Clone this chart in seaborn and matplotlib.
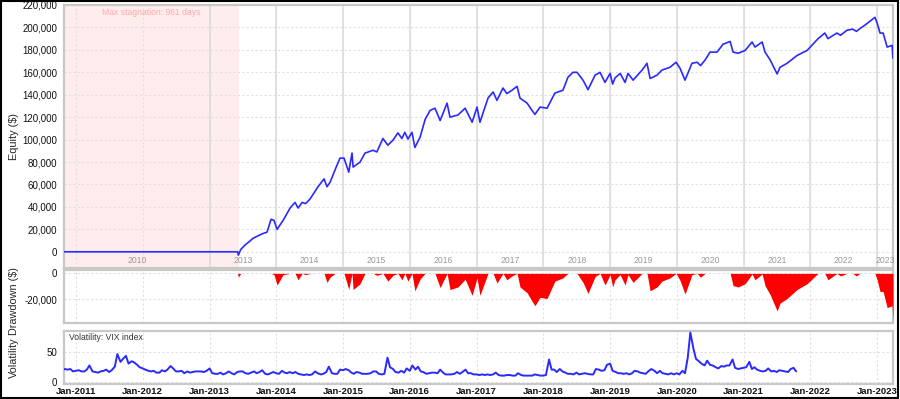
import pandas as pd
import matplotlib
matplotlib.use("Agg")
import matplotlib.pyplot as plt
import matplotlib.dates as mdates
import matplotlib.ticker as mticker
import matplotlib.transforms as mtransforms
from matplotlib.patches import Rectangle
import seaborn as sns

sns.set_style("white")
plt.rcParams['font.family'] = ['Liberation Sans', 'DejaVu Sans']

# -------------------------------
# Data
# -------------------------------
eq_dates = [
    '2010-10-01', '2013-06-03', '2013-06-07', '2013-06-20', '2013-07-13', '2013-08-05',
    '2013-08-26', '2013-09-20', '2013-10-15', '2013-11-11', '2013-12-03', '2013-12-19',
    '2014-01-05', '2014-02-07', '2014-03-17', '2014-04-13', '2014-04-30', '2014-05-22',
    '2014-06-10', '2014-07-04', '2014-08-17', '2014-09-19', '2014-10-05', '2014-10-22',
    '2014-11-18', '2014-12-15', '2015-01-06', '2015-01-22', '2015-02-01', '2015-02-19',
    '2015-02-25', '2015-04-04', '2015-05-01', '2015-06-14', '2015-07-05', '2015-08-07',
    '2015-09-03', '2015-10-01', '2015-10-28', '2015-11-19', '2015-12-05', '2015-12-22',
    '2016-01-13', '2016-01-29', '2016-02-26', '2016-03-25', '2016-04-21', '2016-05-18',
    '2016-06-15', '2016-07-23', '2016-08-08', '2016-09-21', '2016-10-30', '2016-12-07',
    '2017-01-03', '2017-01-19', '2017-03-04', '2017-04-01', '2017-04-22', '2017-05-25',
    '2017-06-15', '2017-07-13', '2017-08-10', '2017-08-26', '2017-10-04', '2017-10-31',
    '2017-11-16', '2017-12-14', '2018-01-21', '2018-03-05', '2018-04-18', '2018-05-15',
    '2018-06-12', '2018-07-04', '2018-08-06', '2018-09-02', '2018-10-11', '2018-11-07',
    '2018-12-04', '2019-01-01', '2019-01-15', '2019-01-28', '2019-02-25', '2019-03-24',
    '2019-04-09', '2019-05-07', '2019-06-25', '2019-07-22', '2019-08-08', '2019-09-15',
    '2019-10-12', '2019-11-25', '2019-12-28', '2020-01-19', '2020-02-15', '2020-03-24',
    '2020-04-21', '2020-05-10', '2020-06-04', '2020-07-01', '2020-08-08', '2020-09-10',
    '2020-10-19', '2020-11-04', '2020-12-02', '2021-01-09', '2021-02-16', '2021-03-04',
    '2021-04-12', '2021-04-28', '2021-05-26', '2021-07-03', '2021-07-19', '2021-08-26',
    '2021-10-20', '2021-12-14', '2022-02-12', '2022-03-21', '2022-04-07', '2022-05-26',
    '2022-06-15', '2022-07-20', '2022-08-20', '2022-09-10', '2022-09-29', '2022-10-26',
    '2022-12-20', '2023-01-02', '2023-01-17', '2023-02-03', '2023-02-25', '2023-03-24',
    '2023-03-29',
]
eq_values = [
    0, 0, -3000, 2000, 6000, 9000,
    12000, 14000, 16000, 17500, 29000, 28000,
    20000, 28000, 39000, 44000, 39000, 44000,
    43000, 47000, 58000, 65000, 58000, 62000,
    73000, 83500, 83500, 76000, 71000, 88000,
    75500, 80000, 88000, 90500, 89000, 101000,
    95000, 99500, 106000, 101000, 106500, 100500,
    106500, 93000, 102000, 118000, 126000, 128000,
    117000, 132500, 120000, 122000, 128000, 115500,
    129000, 115500, 137000, 142500, 135000, 146000,
    141000, 144000, 147500, 137000, 132500, 126000,
    122500, 129000, 128000, 141500, 144000, 155500,
    160000, 160000, 153000, 144500, 157500, 160000,
    151000, 159000, 149500, 155000, 159000, 151000,
    159000, 153000, 162000, 168000, 154500, 157500,
    162000, 164500, 169000, 163500, 153000, 168000,
    169000, 166000, 171000, 178000, 178000, 185000,
    187500, 178000, 177000, 179500, 187000, 182500,
    187000, 178000, 171000, 158500, 164500, 168000,
    175000, 179500, 190000, 195000, 190000, 195000,
    193000, 197500, 198500, 196500, 199000, 202000,
    209000, 203500, 195000, 195000, 182500, 184000,
    172500,
]

# VIX, twice a month (1st and 15th) starting Oct 2010
vix_start = '2010-10-01'
vix_values = [
    22, 19, 21, 20, 21, 17,
    18, 19, 17, 17, 20, 27, 17, 16, 15, 17, 18, 20, 16, 19, 25, 46, 33, 38, 43, 30, 34, 32, 28, 24,
    22, 20, 18, 17, 18, 15, 15, 19, 17, 20, 26, 22, 17, 17, 18, 14, 17, 15, 16, 17, 17, 17, 16, 18,
    22, 14, 13, 13, 15, 12, 14, 17, 14, 12, 16, 17, 17, 14, 13, 15, 17, 14, 16, 19, 13, 12, 14, 16,
    14, 13, 18, 15, 14, 16, 14, 16, 13, 12, 11, 12, 11, 12, 17, 14, 12, 13, 16, 25, 14, 13, 13, 20,
    19, 21, 19, 15, 13, 16, 15, 13, 13, 13, 14, 17, 17, 13, 12, 13, 40, 24, 21, 16, 15, 18, 15, 22,
    18, 27, 20, 25, 17, 16, 13, 14, 15, 15, 14, 20, 15, 12, 12, 12, 13, 16, 13, 16, 20, 14, 14, 12,
    12, 11, 12, 11, 12, 11, 12, 15, 11, 10, 10, 11, 11, 10, 10, 14, 11, 10, 10, 10, 10, 12, 11, 10,
    10, 11, 37, 20, 20, 16, 21, 17, 15, 13, 13, 12, 15, 12, 13, 14, 13, 12, 12, 21, 20, 18, 19, 28,
    30, 18, 16, 14, 14, 13, 14, 12, 14, 18, 17, 15, 14, 13, 18, 21, 18, 14, 18, 14, 13, 12, 14, 12,
    14, 12, 18, 14, 40, 82, 55, 38, 34, 30, 27, 35, 28, 27, 24, 22, 26, 25, 27, 27, 37, 23, 21, 22,
    23, 24, 33, 21, 24, 20, 18, 17, 18, 22, 17, 18, 16, 19, 18, 17, 16, 21, 23, 17,
]

period_labels = ['2010', '2013', '2014', '2015', '2016', '2017', '2018',
                 '2019', '2020', '2021', '2022', '2023']
stagnation_end = '2013-06-10'
stagnation_days = 961

eq = pd.DataFrame({'date': pd.to_datetime(eq_dates), 'equity': eq_values})
eq['drawdown'] = eq['equity'] - eq['equity'].cummax()
vix = pd.DataFrame({'date': pd.date_range(vix_start, periods=len(vix_values), freq='SMS'),
                    'vix': vix_values})

x_left = pd.Timestamp('2010-10-27')
x_right = pd.Timestamp('2023-03-29')
jan_ticks = [pd.Timestamp(f'{y}-01-01') for y in range(2011, 2024)]

BLUE = '#2a2aff'
BORDER = '#c8c8c8'
GRID = '#e0e0e0'

# -------------------------------
# Figure and panels
# -------------------------------
W, H = 900, 399
fig = plt.figure(figsize=(W / 100, H / 100), dpi=100)
left, right = 64, 893
ax1 = fig.add_axes([left / W, 1 - 267.5 / H, (right - left) / W, (267.5 - 5) / H])
ax2 = fig.add_axes([left / W, 1 - 323.3 / H, (right - left) / W, (323.3 - 270) / H], sharex=ax1)
ax3 = fig.add_axes([left / W, 1 - 384 / H, (right - left) / W, (384 - 330.7) / H], sharex=ax1)

for ax in (ax1, ax2, ax3):
    for s in ax.spines.values():
        s.set_color(BORDER)
        s.set_linewidth(1.6)
    ax.tick_params(axis='both', length=0, labelsize=7, pad=5, colors='#111111')
    ax.grid(True, linestyle=(0, (2, 2)), color=GRID, linewidth=0.8)
    ax.set_axisbelow(True)
    ax.set_xlabel('')

fmt_money = mticker.FuncFormatter(lambda v, p: f'{v:,.0f}')

# ---- Equity panel
st_end = pd.Timestamp(stagnation_end)
ax1.axvspan(st_end - pd.Timedelta(days=stagnation_days), st_end, color='#ffeded', zorder=0, lw=0)
for y in range(2013, 2024):
    ax1.axvline(pd.Timestamp(f'{y}-01-01'), color='#dadada', lw=1.1, zorder=1)
sns.lineplot(data=eq, x='date', y='equity', ax=ax1, color=BLUE, linewidth=1.2, zorder=3)
ax1.set_ylim(-14000, 220000)
ax1.yaxis.set_major_locator(mticker.MultipleLocator(20000))
ax1.yaxis.set_major_formatter(fmt_money)
ax1.set_ylabel('Equity ($)', fontsize=7.8)
ax1.set_xlabel('')
ax1.tick_params(axis='x', labelbottom=False)

blend1 = mtransforms.blended_transform_factory(ax1.transData, ax1.transAxes)
ax1.text(x_left + (st_end - x_left) / 2, 0.972, f'Max stagnation: {stagnation_days} days',
         transform=blend1, ha='center', va='center', fontsize=6.2, color='#ffa8a8')

bounds = [x_left] + [pd.Timestamp(f'{y}-01-01') for y in range(2013, 2024)] + [x_right]
for lab, a, b in zip(period_labels, bounds[:-1], bounds[1:]):
    ax1.text(a + (b - a) / 2, 0.027, lab, transform=blend1,
             ha='center', va='center', fontsize=6.2, color='#999999')

# ---- Drawdown panel
ax2.fill_between(eq['date'], eq['drawdown'], 0, color='#ff0000', linewidth=0, zorder=3)
ax2.set_ylim(-38600, 2600)
ax2.set_yticks([0, -20000])
ax2.yaxis.set_major_formatter(fmt_money)
ax2.set_ylabel('Drawdown ($)', fontsize=7.8)
ax2.tick_params(axis='x', labelbottom=False)

# ---- Volatility panel
sns.lineplot(data=vix, x='date', y='vix', ax=ax3, color=BLUE, linewidth=1.4, zorder=3)
ax3.set_ylim(-4, 85)
ax3.set_yticks([0, 50])
ax3.set_ylabel('Volatility', fontsize=7.8)
ax3.set_xlabel('')
ax3.text(0.006, 0.88, 'Volatility: VIX index', transform=ax3.transAxes,
         ha='left', va='center', fontsize=6.2, color='#333333')

ax3.set_xticks(jan_ticks)
ax3.xaxis.set_major_formatter(mdates.DateFormatter('%b-%Y'))
ax3.tick_params(axis='x', labelsize=6.8, pad=2)
for t in ax3.get_xticklabels():
    t.set_fontweight('bold')
ax3.set_xlim(x_left, x_right)

# y labels: anchor is the right side of the rotated text
ax1.yaxis.set_label_coords((19 - left) / (right - left), 0.5)
ax2.yaxis.set_label_coords((19 - left) / (right - left), 0.41)
ax3.yaxis.set_label_coords((19 - left) / (right - left), 0.5)

# black frame around the whole picture
fig.patches.append(Rectangle((0.001, 0.002), 0.997, 0.996, transform=fig.transFigure,
                             fill=False, edgecolor='black', linewidth=1.5))

fig.savefig('out.png', dpi=100)
